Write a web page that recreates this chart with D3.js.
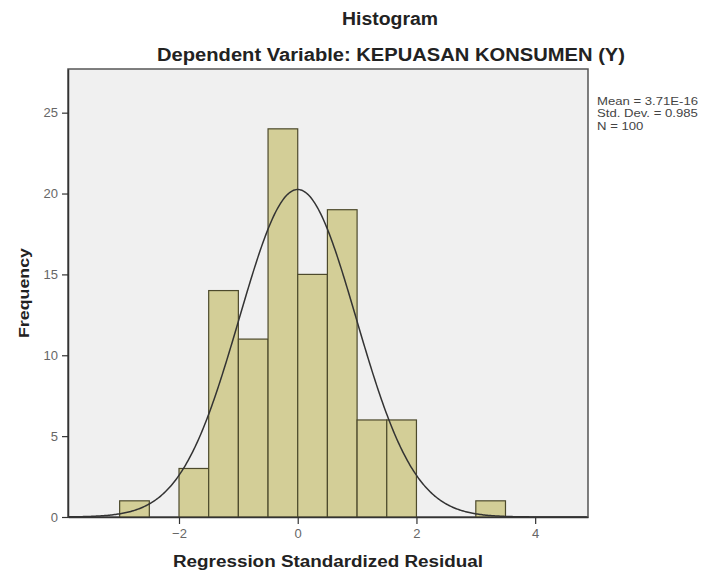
<!DOCTYPE html>
<html>
<head>
<meta charset="utf-8">
<script src="https://cdn.jsdelivr.net/npm/d3@7"></script>
<style>
  body { margin: 0; background: #fff; }
  text { font-family: Arial, "Liberation Sans", sans-serif; }
</style>
</head>
<body>
<div id="chart"></div>
<script>
// histogram bins (lower edge) and counts
var binStarts = [-3, -2.5, -2, -1.5, -1, -0.5, 0, 0.5, 1, 1.5, 3];
var binWidth = 0.5;
var counts = [1, 0, 3, 14, 11, 24, 15, 19, 6, 6, 1];
var xTicks = [-2, 0, 2, 4];
var yTicks = [0, 5, 10, 15, 20, 25];
var statLines = ["Mean = 3.71E-16", "Std. Dev. = 0.985", "N = 100"];
var meanVal = 3.71e-16, sdVal = 0.985, nVal = 100;

var margin = {top: 69, right: 118, bottom: 55, left: 68},
    width = 706 - margin.left - margin.right,
    height = 572 - margin.top - margin.bottom;

var x = d3.scaleLinear().domain([-3.87, 4.89]).range([0, width]);
var y = d3.scaleLinear().domain([0, 27.7]).range([height, 0]);

var svg = d3.select("#chart").append("svg")
    .attr("width", 706)
    .attr("height", 572);

// the source picture is a bit stretched sideways, so widen the text to match
function stretch(sel, w) {
  sel.each(function() {
    var len = this.getComputedTextLength();
    d3.select(this).attr("textLength", w || len * 1.25).attr("lengthAdjust", "spacingAndGlyphs");
  });
}

svg.append("text")
    .attr("x", 390).attr("y", 25)
    .attr("text-anchor", "middle")
    .style("font-size", "18px").style("font-weight", "bold").style("fill", "#222")
    .text("Histogram")
    .call(stretch, 96);

svg.append("text")
    .attr("x", 391).attr("y", 61)
    .attr("text-anchor", "middle")
    .style("font-size", "18px").style("font-weight", "bold").style("fill", "#222")
    .text("Dependent Variable: KEPUASAN KONSUMEN (Y)")
    .call(stretch, 468);

var g = svg.append("g")
    .attr("transform", "translate(" + margin.left + "," + margin.top + ")");

g.append("rect")
    .attr("width", width).attr("height", height)
    .style("fill", "#f0f0f0")
    .style("stroke", "#555").style("stroke-width", 1.5);

// bars
var bins = binStarts.map(function(s, i) { return {x0: s, x1: s + binWidth, n: counts[i]}; })
    .filter(function(d) { return d.n > 0; });

g.selectAll(".bar")
    .data(bins)
  .enter().append("rect")
    .attr("class", "bar")
    .attr("x", function(d) { return x(d.x0); })
    .attr("width", function(d) { return x(d.x1) - x(d.x0); })
    .attr("y", function(d) { return y(d.n); })
    .attr("height", function(d) { return y(0) - y(d.n); })
    .style("fill", "#d3ce97")
    .style("stroke", "#4d4a2c")
    .style("stroke-width", 1.2);

// normal curve from the reported mean / sd
var curveXs = d3.range(-3.87, 4.89, 0.02);
var normal = function(v) {
  var z = (v - meanVal) / sdVal;
  return nVal * binWidth * Math.exp(-0.5 * z * z) / (sdVal * Math.sqrt(2 * Math.PI));
};
g.append("path")
    .datum(curveXs)
    .attr("d", d3.line().x(function(d) { return x(d); }).y(function(d) { return y(normal(d)); }))
    .style("fill", "none")
    .style("stroke", "#333")
    .style("stroke-width", 1.5);

// axes
var xAxis = g.append("g")
    .attr("transform", "translate(0," + height + ")")
    .call(d3.axisBottom(x).tickValues(xTicks).tickSize(7).tickSizeOuter(0).tickFormat(d3.format("d")));
var yAxis = g.append("g")
    .call(d3.axisLeft(y).tickValues(yTicks).tickSize(6).tickSizeOuter(0));

[xAxis, yAxis].forEach(function(a) {
  a.select(".domain").style("stroke", "#333").style("stroke-width", 1.5);
  a.selectAll(".tick line").style("stroke", "#333").style("stroke-width", 1.2);
  a.selectAll(".tick text").style("fill", "#666").style("font-size", "13px")
    .style("font-family", "Arial, 'Liberation Sans', sans-serif");
});
xAxis.selectAll(".tick text").attr("dy", "0.85em");
yAxis.selectAll(".tick text").attr("x", -10);

svg.append("text")
    .attr("x", 328).attr("y", 567)
    .attr("text-anchor", "middle")
    .style("font-size", "16px").style("font-weight", "bold").style("fill", "#222")
    .text("Regression Standardized Residual")
    .call(stretch, 310);

svg.append("text")
    .attr("transform", "translate(29,293) rotate(-90)")
    .attr("text-anchor", "middle")
    .style("font-size", "15px").style("font-weight", "bold").style("fill", "#222")
    .text("Frequency")
    .call(stretch, 90);

svg.append("g").selectAll("text")
    .data(statLines)
  .enter().append("text")
    .attr("x", 597)
    .attr("y", function(d, i) { return 104.5 + i * 12.5; })
    .style("font-size", "10.5px").style("fill", "#444")
    .text(function(d) { return d; })
    .call(stretch);
</script>
</body>
</html>
